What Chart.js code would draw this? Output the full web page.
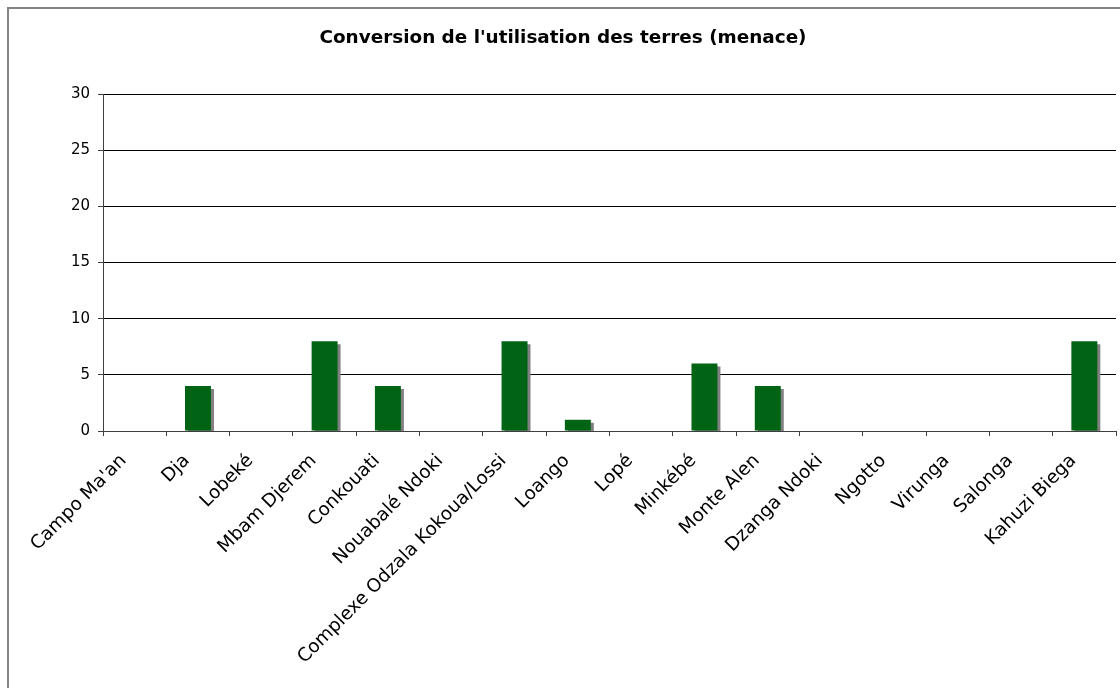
<!DOCTYPE html>
<html>
<head>
<meta charset="utf-8">
<script src="https://cdn.jsdelivr.net/npm/chart.js@4/dist/chart.umd.min.js"></script>
<style>
  html, body { margin: 0; padding: 0; background: #ffffff; }
  #wrap { position: relative; width: 1120px; height: 688px; }
</style>
</head>
<body>
<div id="wrap"><canvas id="c"></canvas></div>
<script>
const chartTitle = "Conversion de l'utilisation des terres (menace)";
const categories = [
  "Campo Ma'an", "Dja", "Lobeké", "Mbam Djerem", "Conkouati", "Nouabalé Ndoki",
  "Complexe Odzala Kokoua/Lossi", "Loango", "Lopé", "Minkébé", "Monte Alen",
  "Dzanga Ndoki", "Ngotto", "Virunga", "Salonga", "Kahuzi Biega"
];
const values = [0, 4, 0, 8, 4, 0, 8, 1, 0, 6, 4, 0, 0, 0, 0, 8];
const yTicks = [0, 5, 10, 15, 20, 25, 30];

const frameAndShadow = {
  id: 'frameAndShadow',
  beforeDraw(chart) {
    const ctx = chart.ctx;
    ctx.save();
    ctx.strokeStyle = '#858585';
    ctx.lineWidth = 2;
    ctx.strokeRect(8, 8, 1300, 1000);
    ctx.restore();
  },
  beforeDatasetsDraw(chart) {
    const ctx = chart.ctx;
    ctx.save();
    ctx.shadowColor = '#808080';
    ctx.shadowOffsetX = 3;
    ctx.shadowOffsetY = 3;
    ctx.shadowBlur = 0;
  },
  afterDatasetsDraw(chart) {
    chart.ctx.restore();
  }
};

new Chart(document.getElementById('c'), {
  type: 'bar',
  data: {
    labels: categories,
    datasets: [{
      data: values,
      backgroundColor: '#006414',
      borderWidth: 0,
      barPercentage: 0.41,
      categoryPercentage: 1.0,
      clip: 0
    }]
  },
  options: {
    responsive: true,
    maintainAspectRatio: false,
    animation: false,
    layout: { padding: { left: 10, right: 4, top: 0, bottom: 0 } },
    plugins: {
      legend: { display: false },
      tooltip: { enabled: false },
      title: {
        display: true,
        text: chartTitle,
        color: '#000000',
        font: { family: 'DejaVu Sans', size: 18.4, weight: 'bold', lineHeight: 1.2 },
        padding: { top: 27, bottom: 45 }
      }
    },
    scales: {
      x: {
        grid: {
          display: true,
          offset: true,
          drawOnChartArea: true,
          color: (ctx) => ctx.index === categories.length ? '#808080' : 'rgba(0,0,0,0)',
          tickColor: '#404040',
          tickLength: 5,
          lineWidth: 1
        },
        border: { display: true, color: '#404040', width: 1 },
        ticks: {
          autoSkip: false,
          maxRotation: 45,
          minRotation: 45,
          padding: 14,
          labelOffset: -11,
          color: '#000000',
          font: { family: 'DejaVu Sans', size: 18.5 }
        },
        afterFit: (s) => { s.height = 257; }
      },
      y: {
        min: 0,
        max: 30,
        afterBuildTicks: (s) => { s.ticks = yTicks.map(v => ({ value: v })); },
        grid: {
          color: '#000000',
          tickColor: '#404040',
          tickLength: 5,
          lineWidth: 1
        },
        border: { display: true, color: '#404040', width: 1 },
        ticks: {
          padding: 8,
          color: '#000000',
          font: { family: 'DejaVu Sans', size: 15 }
        },
        afterFit: (s) => { s.width = 93; }
      }
    }
  },
  plugins: [frameAndShadow]
});
</script>
</body>
</html>
